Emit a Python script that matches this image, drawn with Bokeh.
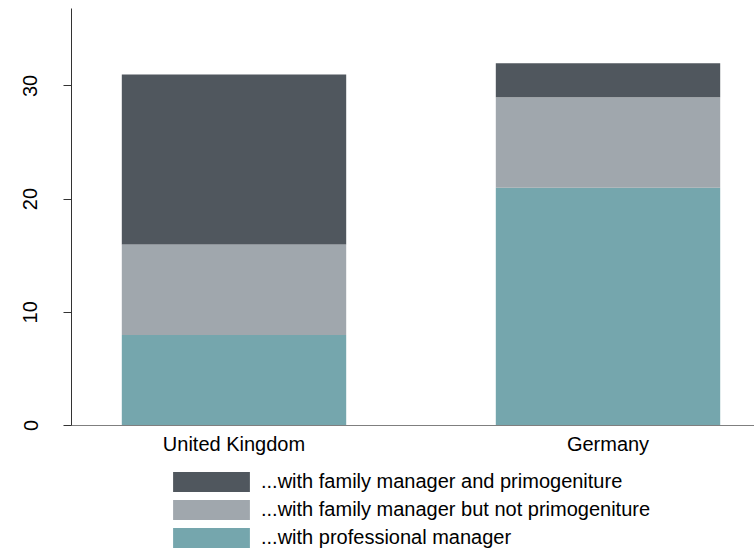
from bokeh.plotting import figure
from bokeh.layouts import column
from bokeh.models import Range1d, FixedTicker, Legend, LegendItem
from bokeh.embed import file_html
from bokeh.resources import INLINE

categories = ["United Kingdom", "Germany"]
professional = [8, 21]
family_not_primo = [8, 8]
family_primo = [15, 3]
series_labels = ["...with professional manager",
                 "...with family manager but not primogeniture",
                 "...with family manager and primogeniture"]
colors = ["#75a6ad", "#a0a7ad", "#50575e"]
y_ticks = [0, 10, 20, 30]

xs = list(range(len(categories)))
data = dict(x=xs, professional=professional, family_not_primo=family_not_primo,
            family_primo=family_primo)
stack_keys = ["professional", "family_not_primo", "family_primo"]

FONT = "Liberation Sans"

p = figure(width=754, height=465, output_backend="svg", toolbar_location=None,
           x_range=Range1d(-0.4345, 1.3917), y_range=Range1d(0, 36.84),
           min_border_left=71, min_border_top=8, min_border_right=0, min_border_bottom=40)
p.outline_line_color = None
p.xgrid.grid_line_color = None
p.ygrid.grid_line_color = None

p.vbar_stack(stack_keys, x="x", width=0.6, color=colors, line_color=None, source=data)

p.xaxis.ticker = FixedTicker(ticks=xs)
p.xaxis.major_label_overrides = {i: c for i, c in zip(xs, categories)}
p.xaxis.major_tick_line_color = None
p.xaxis.major_tick_out = 0
p.xaxis.minor_tick_line_color = None
p.xaxis.axis_line_color = "#7f7f7f"
p.xaxis.major_label_text_font = FONT
p.xaxis.major_label_text_font_size = "20px"
p.xaxis.major_label_text_color = "#000000"
p.xaxis.major_label_standoff = 7

p.yaxis.ticker = FixedTicker(ticks=y_ticks)
p.yaxis.minor_tick_line_color = None
p.yaxis.axis_line_color = "#333333"
p.yaxis.major_tick_line_color = "#333333"
p.yaxis.major_tick_out = 8
p.yaxis.major_tick_in = 0
p.yaxis.major_label_orientation = "vertical"
p.yaxis.major_label_text_font = FONT
p.yaxis.major_label_text_font_size = "20px"
p.yaxis.major_label_text_color = "#000000"
p.yaxis.major_label_standoff = 26

# legend figure below the chart
lg = figure(width=754, height=86, output_backend="svg", toolbar_location=None,
            x_range=Range1d(100, 101), y_range=Range1d(100, 101),
            x_axis_location=None, y_axis_location=None,
            min_border_left=0, min_border_top=0, min_border_right=0, min_border_bottom=0)
lg.grid.visible = False
lg.outline_line_color = None
lg_renderers = lg.vbar_stack(stack_keys, x="x", width=0.6, color=colors,
                             line_color=None, source=data)

items = [LegendItem(label=series_labels[i], renderers=[lg_renderers[i]]) for i in [2, 1, 0]]
legend = Legend(items=items, location=(92, 1), orientation="vertical",
                glyph_width=96, glyph_height=25, label_height=25,
                label_standoff=2, spacing=3, padding=0, margin=0,
                border_line_color=None, background_fill_alpha=0,
                label_text_font=FONT, label_text_font_size="20px",
                label_text_color="#000000")
lg.add_layout(legend, "center")

layout = column(p, lg, spacing=0)
open("out.html", "w").write(file_html(layout, INLINE))
